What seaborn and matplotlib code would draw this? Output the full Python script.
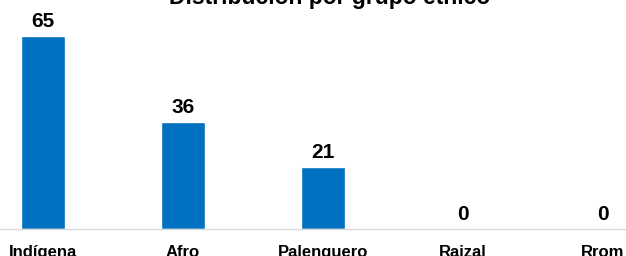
import matplotlib
matplotlib.use("Agg")
import matplotlib.pyplot as plt
import seaborn as sns
import pandas as pd

categories = ["Indígena", "Afro", "Palenguero", "Raizal", "Rrom"]
values = [65, 36, 21, 0, 0]
title = "Distribución por grupo étnico"

sns.set_theme(style="white")
plt.rcParams['font.family'] = ['Liberation Sans', 'DejaVu Sans']

df = pd.DataFrame({"grupo": categories, "n": values})

fig = plt.figure(figsize=(6.26, 2.56), dpi=100)
ax = fig.add_axes([-27/626, 27/256, 700/626, 229/256])
sns.barplot(data=df, x="grupo", y="n", color="#0070C0", width=0.31,
            saturation=1, ax=ax)
ax.set_xlim(-0.5, 4.5)
ax.set_ylim(0, 77.1)
ax.set_xlabel("")
ax.set_ylabel("")
ax.set_yticks([])
for s in ["top", "left", "right"]:
    ax.spines[s].set_visible(False)
ax.spines["bottom"].set_color("#d9d9d9")
ax.spines["bottom"].set_linewidth(1)
ax.tick_params(axis="x", length=0, pad=11.5)
for lab in ax.get_xticklabels():
    lab.set_fontweight("bold")
    lab.set_fontsize(12)
    lab.set_color("#000000")
for i, v in enumerate(values):
    ax.annotate(f"{v}", (i, v), xytext=(0, 3.5), textcoords="offset points",
                ha="center", va="bottom", fontsize=15, fontweight="bold",
                color="#000000")
fig.text(330/626, 1 - 4/256, title, ha="center", va="baseline",
         fontsize=16.5, fontweight="bold", color="#000000")
fig.savefig("out.png", dpi=100)
